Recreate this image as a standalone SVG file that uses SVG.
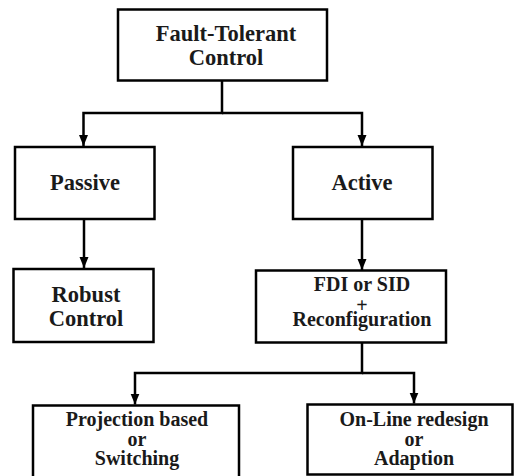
<svg xmlns="http://www.w3.org/2000/svg" width="514" height="476" viewBox="0 0 514 476">
<defs>
<marker id="ah" markerUnits="userSpaceOnUse" markerWidth="12" markerHeight="10" refX="11" refY="4.5" orient="auto">
<path d="M0,0 L11,4.5 L0,9 z" fill="#000"/>
</marker>
<style>
.box{fill:#fff;stroke:#000;stroke-width:2.5}
.t{font-family:'Liberation Serif','DejaVu Serif',serif;font-weight:700;fill:#1a1a1a;text-anchor:middle}
.big{font-size:22.5px}
.sm{font-size:20px}
.c{fill:none;stroke:#000;stroke-width:2.5}
</style>
</defs>
<rect width="514" height="476" fill="#fff"/>
<g id="connectors">
<path class="c" d="M222,81 V113 H83.5 V146" marker-end="url(#ah)"/>
<path class="c" d="M222,113 H362 V146" marker-end="url(#ah)"/>
<path class="c" d="M84,220 V268" marker-end="url(#ah)"/>
<path class="c" d="M362,220 V270" marker-end="url(#ah)"/>
<path class="c" d="M362,343 V373 H135 V404.5" marker-end="url(#ah)"/>
<path class="c" d="M362,373 H414 V403.5" marker-end="url(#ah)"/>
</g>
<g id="ftc" font-family="Liberation Serif, serif">
<rect class="box" x="118" y="9.5" width="209" height="71"/>
<text class="t big" x="226" y="40.5">Fault-Tolerant</text>
<text class="t big" x="226" y="65">Control</text>
</g>
<g id="passive">
<rect class="box" x="15" y="147" width="139.5" height="72"/>
<text class="t big" x="85" y="190">Passive</text>
</g>
<g id="active">
<rect class="box" x="293" y="147" width="139.5" height="72"/>
<text class="t big" x="362" y="190">Active</text>
</g>
<g id="robust">
<rect class="box" x="13.5" y="269" width="140" height="73"/>
<text class="t big" x="86" y="302">Robust</text>
<text class="t big" x="86" y="326">Control</text>
</g>
<g id="fdi">
<rect class="box" x="256" y="270.5" width="190" height="72"/>
<text class="t sm" x="362" y="290.5">FDI or SID</text>
<text class="t sm" x="362" y="312">+</text>
<text class="t sm" x="362" y="326">Reconfiguration</text>
</g>
<g id="projection">
<rect class="box" x="33" y="405.5" width="206" height="80"/>
<text class="t sm" x="137" y="426">Projection based</text>
<text class="t sm" x="137" y="445.5">or</text>
<text class="t sm" x="137" y="465">Switching</text>
</g>
<g id="online">
<rect class="box" x="307.5" y="404.5" width="205" height="70"/>
<text class="t sm" x="414" y="426">On-Line redesign</text>
<text class="t sm" x="414" y="445.5">or</text>
<text class="t sm" x="414" y="465">Adaption</text>
</g>
</svg>
